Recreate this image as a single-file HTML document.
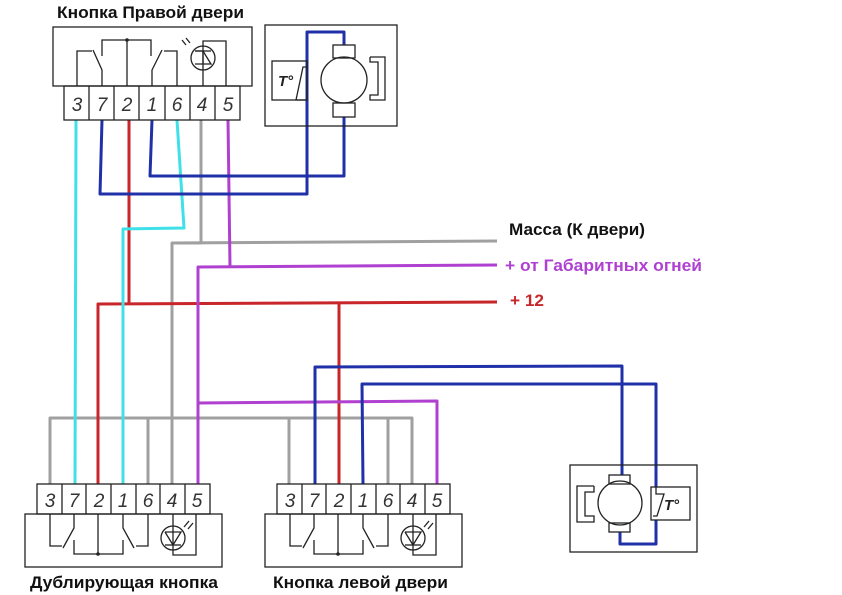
<!DOCTYPE html>
<html><head><meta charset="utf-8"><style>
html,body{margin:0;padding:0;background:#fff;}
svg{display:block;}
text{font-family:"Liberation Sans",sans-serif;}
</style></head><body>
<svg width="842" height="595" viewBox="0 0 842 595" xmlns="http://www.w3.org/2000/svg">
<g fill="none" stroke-width="3" stroke-linejoin="round">
<!-- gray -->
<g stroke="#a0a0a0">
<polyline points="201,120 201,243 172,243 172,484"/>
<line x1="172" y1="243" x2="497" y2="241"/>
<polyline points="50,484 50,418 412,418 412,484"/>
<line x1="148" y1="418" x2="148" y2="484"/>
<line x1="289" y1="418" x2="289" y2="484"/>
<line x1="388" y1="418" x2="388" y2="484"/>
</g>
<!-- red -->
<g stroke="#c8262a">
<polyline points="129,120 129,304"/>
<polyline points="98,484 98,304 497,302"/>
<line x1="339" y1="304" x2="339" y2="484"/>
</g>
<!-- purple -->
<g stroke="#b040d0">
<polyline points="228,120 230,267"/>
<polyline points="198,484 198,267 497,265"/>
<polyline points="198,403 437,401 437,484"/>
</g>
<!-- cyan -->
<g stroke="#40e0e8">
<polyline points="76,120 75,484"/>
<polyline points="177,120 184,228 123,229 123,484"/>
</g>
<!-- blue -->
<g stroke="#2030a8">
<polyline points="102,120 100,194 307,194 307,32 344,32 344,45"/>
<polyline points="152,120 150,176 344,176 344,117"/>
<polyline points="315,484 315,367 622,366 622,475"/>
<polyline points="363,484 362,384 656,384 656,487"/>
<polyline points="620,532 620,544 656,544 656,520"/>
</g>
</g>
<g fill="none" stroke="#222" stroke-width="1.3">
<!-- top button -->
<rect x="53" y="27" width="199" height="59"/>
<rect x="64" y="86" width="176" height="34"/>
<line x1="89" y1="86" x2="89" y2="120"/><line x1="114" y1="86" x2="114" y2="120"/><line x1="139" y1="86" x2="139" y2="120"/><line x1="165" y1="86" x2="165" y2="120"/><line x1="190" y1="86" x2="190" y2="120"/><line x1="215" y1="86" x2="215" y2="120"/>
<polyline points="77,86 77,51 92,51"/>
<polyline points="102,86 102,70 93,50"/>
<polyline points="102,56 102,40 151,40 151,56"/>
<line x1="127" y1="40" x2="127" y2="86"/>
<polyline points="152,86 152,70 162,50"/>
<polyline points="177,86 177,51 164,51"/>
<circle cx="203" cy="58" r="12"/>
<polyline points="203,86 203,41 226,41 226,86"/>
<polyline points="195,64 211,64 203,51 195,51"/>
<line x1="211" y1="51" x2="195" y2="51"/>
<line x1="203" y1="51" x2="203" y2="64"/>
<line x1="186" y1="45" x2="182" y2="40"/><line x1="190" y1="43" x2="186" y2="38"/>
<!-- top motor -->
<rect x="265" y="25" width="132" height="101"/>
<rect x="272" y="61" width="35" height="39"/>
<polyline points="307,100 296,100 303,67 308,67"/>
<circle cx="344" cy="80" r="23"/>
<rect x="333" y="45" width="22" height="13"/>
<rect x="333" y="103" width="22" height="14"/>
<polyline points="370,57 385,57 385,100 370,100 370,95 378,95 378,62 370,62 370,57"/>
<!-- bottom motor -->
<rect x="570" y="465" width="127" height="87"/>
<circle cx="620" cy="503" r="22"/>
<rect x="609" y="475" width="21" height="9"/>
<rect x="609" y="523" width="21" height="9"/>
<polyline points="594,486 577,486 577,522 594,522 594,516 585,516 585,492 594,492 594,486"/>
<rect x="651" y="487" width="39" height="33"/>
<polyline points="656,487 656,494 664,494 657,516 653,516"/>
</g>
<!-- bottom buttons -->
<g fill="none" stroke="#222" stroke-width="1.3" id="b1">
<rect x="25" y="514" width="197" height="53"/>
<rect x="37" y="484" width="173" height="30"/>
<line x1="62" y1="484" x2="62" y2="514"/><line x1="86" y1="484" x2="86" y2="514"/><line x1="111" y1="484" x2="111" y2="514"/><line x1="136" y1="484" x2="136" y2="514"/><line x1="160" y1="484" x2="160" y2="514"/><line x1="185" y1="484" x2="185" y2="514"/>
<polyline points="50,514 50,546 62,546"/>
<polyline points="74,514 74,528 63,548"/>
<polyline points="74,540 74,554 123,554 123,540"/>
<line x1="98" y1="514" x2="98" y2="554"/>
<polyline points="123,514 123,528 134,548"/>
<polyline points="148,514 148,546 136,546"/>
<circle cx="173" cy="538" r="12"/>
<polyline points="173,514 173,555 196,555 196,514"/>
<polyline points="165,532 181,532 173,545 165,532"/>
<line x1="165" y1="545" x2="181" y2="545"/>
<line x1="184" y1="527" x2="189" y2="521"/><line x1="188" y1="529" x2="193" y2="523"/>
</g>
<g fill="none" stroke="#222" stroke-width="1.3" transform="translate(240,0)">
<rect x="25" y="514" width="197" height="53"/>
<rect x="37" y="484" width="173" height="30"/>
<line x1="62" y1="484" x2="62" y2="514"/><line x1="86" y1="484" x2="86" y2="514"/><line x1="111" y1="484" x2="111" y2="514"/><line x1="136" y1="484" x2="136" y2="514"/><line x1="160" y1="484" x2="160" y2="514"/><line x1="185" y1="484" x2="185" y2="514"/>
<polyline points="50,514 50,546 62,546"/>
<polyline points="74,514 74,528 63,548"/>
<polyline points="74,540 74,554 123,554 123,540"/>
<line x1="98" y1="514" x2="98" y2="554"/>
<polyline points="123,514 123,528 134,548"/>
<polyline points="148,514 148,546 136,546"/>
<circle cx="173" cy="538" r="12"/>
<polyline points="173,514 173,555 196,555 196,514"/>
<polyline points="165,532 181,532 173,545 165,532"/>
<line x1="165" y1="545" x2="181" y2="545"/>
<line x1="184" y1="527" x2="189" y2="521"/><line x1="188" y1="529" x2="193" y2="523"/>
</g>
<g fill="#222">
<circle cx="127" cy="40" r="1.8"/><circle cx="98" cy="554" r="1.8"/><circle cx="338" cy="554" r="1.8"/>
</g>
<!-- terminal numbers -->
<g font-size="19" font-style="italic" fill="#333" text-anchor="middle">
<text x="77" y="111">3</text><text x="102" y="111">7</text><text x="127" y="111">2</text><text x="152" y="111">1</text><text x="177" y="111">6</text><text x="202" y="111">4</text><text x="228" y="111">5</text>
<text x="50" y="507">3</text><text x="74" y="507">7</text><text x="99" y="507">2</text><text x="123" y="507">1</text><text x="148" y="507">6</text><text x="172" y="507">4</text><text x="197" y="507">5</text>
<text x="290" y="507">3</text><text x="314" y="507">7</text><text x="339" y="507">2</text><text x="363" y="507">1</text><text x="388" y="507">6</text><text x="412" y="507">4</text><text x="437" y="507">5</text>
</g>
<g font-size="15" font-style="italic" fill="#222" font-weight="bold">
<text x="278" y="86">T°</text><text x="664" y="510">T°</text>
</g>
<!-- labels -->
<g font-size="17" font-weight="bold">
<text x="57" y="18" fill="#111" textLength="187" lengthAdjust="spacingAndGlyphs">Кнопка Правой двери</text>
<text x="30" y="588" fill="#111" textLength="188" lengthAdjust="spacingAndGlyphs">Дублирующая кнопка</text>
<text x="273" y="588" fill="#111" textLength="175" lengthAdjust="spacingAndGlyphs">Кнопка левой двери</text>
<text x="509" y="235" fill="#111" textLength="136" lengthAdjust="spacingAndGlyphs">Масса (К двери)</text>
<text x="505" y="271" fill="#b040d0" textLength="197" lengthAdjust="spacingAndGlyphs">+ от Габаритных огней</text>
<text x="510" y="306" fill="#c8262a" textLength="34" lengthAdjust="spacingAndGlyphs">+ 12</text>
</g>
</svg>
</body></html>
